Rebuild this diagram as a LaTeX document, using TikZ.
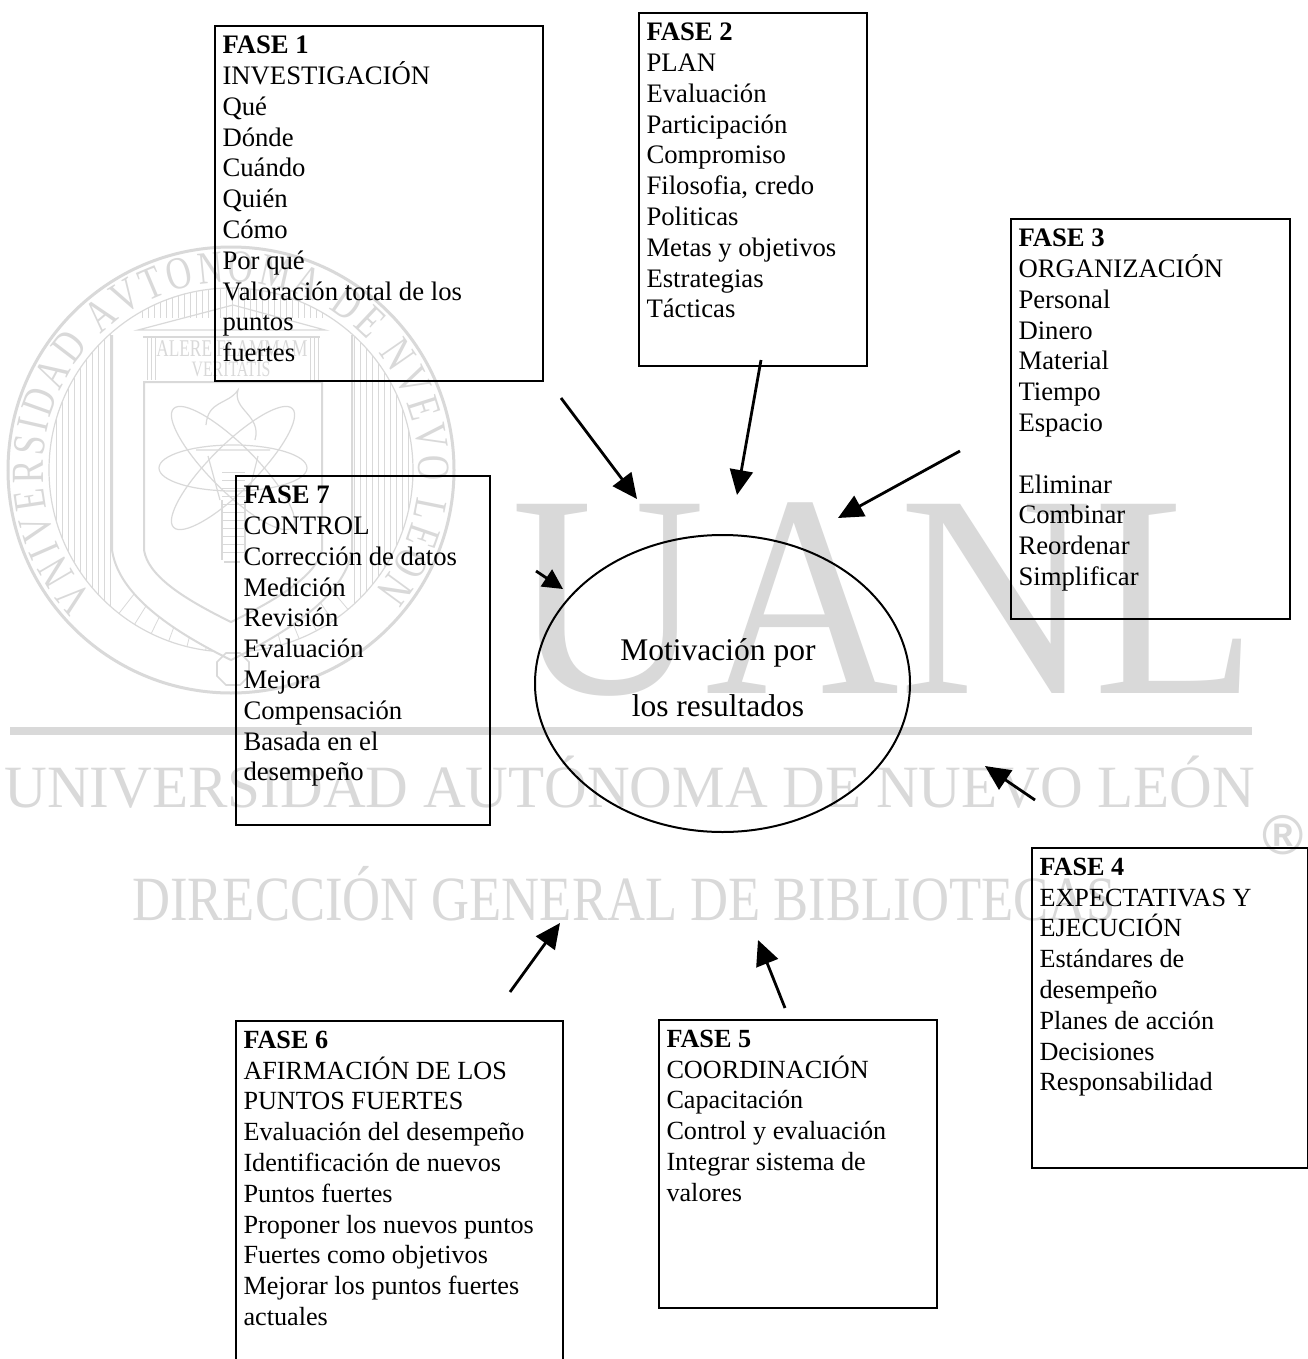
\documentclass[tikz,border=0pt]{standalone}
\usepackage{fontspec}
\setmainfont{Liberation Serif}
\newfontfamily\sellofam[FakeStretch=.76]{Liberation Serif}
\newfontfamily\regfam{Liberation Sans}
\usepackage{tikz}
\usetikzlibrary{shapes.geometric, arrows.meta, decorations.text}
\definecolor{sello}{HTML}{D9D9D9}
\def\fase#1#2#3{\parbox[t][#2pt][t]{#1pt}{\vspace*{10pt}\raggedright #3}}
\def\sellofont{\sellofam\fontsize{46}{46}\selectfont}

\begin{document}
\begin{tikzpicture}[x=1pt, y=-1pt,
              fasebox/.style = {shape=rectangle, draw, line width=2pt,
                anchor=north west, inner xsep=7.5pt, inner ysep=0pt,
                font=\fontsize{26.7}{30.8}\selectfont},
              fasechica/.style = {fasebox, font=\fontsize{26.2}{30.8}\selectfont},
              flecha/.style = {-{Triangle[length=25pt,width=23pt]}, line width=2.8pt},
              marca/.style = {sello, line width=1.2pt},
              marcatxt/.style = {sello, inner sep=0pt, anchor=base}]
  \useasboundingbox (0,0) rectangle (1307,1359);
  \fill[white] (0,0) rectangle (1307,1359);

  % sello
  \draw[sello, line width=3pt] (231,470) circle[radius=223];
  \draw[marca] (231,470) circle[radius=182];
  \path[decorate, decoration={text along path, text align={fit to path},
        text={|\sellofont\color{sello}|VNIVERSIDAD AVTONOMA DE NVEVO LEON}}]
    (231,470) ++(137:188) arc[start angle=137, end angle=400, radius=188];
  \begin{scope}
    \clip (231,470) circle[radius=182];
    \foreach \x in {56,62,...,110, 354,360,...,410}
      \draw[sello, line width=.8pt] (\x,280) -- (\x,610);
    \foreach \x in {142,148,...,322}
      \draw[sello, line width=.8pt] (\x,285) -- (\x,318);
    \foreach \a in {50,56,...,130}
      \draw[sello, line width=.8pt] (231,470) ++(\a:150) -- ++(\a:40);
  \end{scope}
  \fill[white] (112,335) -- (112,550) .. controls (118,590) and (160,625) .. (231,660)
    .. controls (302,625) and (346,590) .. (352,550) -- (352,335) -- cycle;
  \draw[marca, line width=2pt] (112,335) -- (112,550) .. controls (118,590) and (160,625) .. (231,660)
    .. controls (302,625) and (346,590) .. (352,550) -- (352,335);
  \draw[marca, line width=2pt] (144,382) -- (144,550) .. controls (148,575) and (180,597) .. (231,622)
    .. controls (282,597) and (316,575) .. (322,550) -- (322,382) -- cycle;
  \draw[marca] (138,330) -- (233,305) -- (325,330) -- cycle;
  \draw[marca] (143,337) -- (320,337);
  \foreach \x in {147,151,155, 310,314,318}
    \draw[sello, line width=.8pt] (\x,338) -- (\x,380);
  \node[marcatxt, font=\fontsize{24}{24}\selectfont, xscale=.72, transform shape] (lema) at (232,356) {ALERE FLAMMAM};
  \node[marcatxt, font=\fontsize{22}{22}\selectfont, xscale=.72, transform shape] (veritas) at (231,376) {VERITATIS};
  \foreach \a/\r in {45/84, -45/84, 0/74}
    \draw[marca] (233,468) ellipse[x radius=\r, y radius=23, rotate=\a];
  \draw[marca] (206,425) .. controls (208,400) and (228,405) .. (238,390)
    .. controls (232,410) and (262,415) .. (255,440);
  \draw[marca] (196,450) -- (270,450) (208,456) -- (220,500) (258,456) -- (247,500);
  \foreach \y in {472,480,...,552}
    \draw[sello, line width=.8pt] (222,\y) -- (245,\y);
  \draw[marca] (224,562) -- (240,562) (222,500) -- (222,560) (245,500) -- (245,560);
  \draw[marca, line width=1.6pt] (217,662) -- (226,653) -- (240,653) -- (249,662)
    -- (249,676) -- (240,685) -- (226,685) -- (217,676) -- cycle;

  % marca de agua
  \node[marcatxt, font=\fontsize{289}{289}\selectfont, xscale=.93, transform shape] (uanl) at (885,693) {UANL};
  \fill[sello] (10,727) rectangle (1252,735);
  \node[marcatxt, font=\fontsize{60}{60}\selectfont, xscale=.985, transform shape] (univ) at (630,807) {UNIVERSIDAD AUTÓNOMA DE NUEVO LEÓN};
  \node[marcatxt, font=\fontsize{63}{63}\selectfont, xscale=.835, transform shape] (direc) at (624,920) {DIRECCIÓN GENERAL DE BIBLIOTECAS};
  \node[marcatxt, anchor=center, font=\regfam\bfseries\fontsize{56}{56}\selectfont] (reg) at (1283,835) {®};

  % fases
  \node[fasebox] (f1) at (214,25) {\fase{313}{355}{\textbf{FASE 1}\\
    INVESTIGACIÓN\\ Qué\\ Dónde\\ Cuándo\\ Quién\\ Cómo\\ Por qué\\
    Valoración total de los\\ puntos\\ fuertes}};
  \node[fasebox] (f2) at (638,12) {\fase{213}{353}{\textbf{FASE 2}\\
    PLAN\\ Evaluación\\ Participación\\ Compromiso\\ Filosofia, credo\\
    Politicas\\ Metas y objetivos\\ Estrategias\\ Tácticas}};
  \node[fasebox] (f3) at (1010,218) {\fase{264}{400}{\textbf{FASE 3}\\
    ORGANIZACIÓN\\ Personal\\ Dinero\\ Material\\ Tiempo\\ Espacio\\[30.8pt]
    Eliminar\\ Combinar\\ Reordenar\\ Simplificar}};
  \node[fasechica] (f4) at (1031,847) {\fase{261}{320}{\textbf{FASE 4}\\
    EXPECTATIVAS Y\\ EJECUCIÓN\\ Estándares de\\ desempeño\\
    Planes de acción\\ Decisiones\\ Responsabilidad}};
  \node[fasechica] (f5) at (658,1019) {\fase{263}{288}{\textbf{FASE 5}\\
    COORDINACIÓN\\ Capacitación\\ Control y evaluación\\
    Integrar sistema de\\ valores}};
  \node[fasechica] (f6) at (235,1020) {\fase{312}{345}{\textbf{FASE 6}\\
    AFIRMACIÓN DE LOS\\ PUNTOS FUERTES\\ Evaluación del desempeño\\
    Identificación de nuevos\\ Puntos fuertes\\ Proponer los nuevos puntos\\
    Fuertes como objetivos\\ Mejorar los puntos fuertes\\ actuales}};
  \node[fasebox] (f7) at (235,475) {\fase{239}{349}{\textbf{FASE 7}\\
    CONTROL\\ Corrección de datos\\ Medición\\ Revisión\\ Evaluación\\
    Mejora\\ Compensación\\ Basada en el\\ desempeño}};

  \node[shape=ellipse, draw, line width=2pt, inner sep=0pt,
        minimum width=375pt, minimum height=297pt] (motiv) at (722.5,683.5) {};
  \node[align=center, inner sep=0pt, font=\fontsize{31.5}{32}\selectfont] (motivtxt) at (718,678)
        {Motivación por\\[24pt]los resultados};

  % flechas
  \coordinate (a1) at (561,398);  \coordinate (b1) at (637,499);
  \coordinate (a2) at (761,360);  \coordinate (b2) at (737,495);
  \coordinate (a3) at (960,451);  \coordinate (b3) at (838,518);
  \coordinate (a4) at (1035,800); \coordinate (b4) at (985,766);
  \coordinate (a5) at (785,1008); \coordinate (b5) at (758,940);
  \coordinate (a6) at (510,992);  \coordinate (b6) at (560,923);
  \coordinate (a7) at (536,571);  \coordinate (b7) at (563,589);
  \foreach \n in {1,...,6}
    \draw[flecha] (a\n) -- (b\n);
  \draw[flecha, -{Triangle[length=20pt,width=20pt]}] (a7) -- (b7);
\end{tikzpicture}
\end{document}
